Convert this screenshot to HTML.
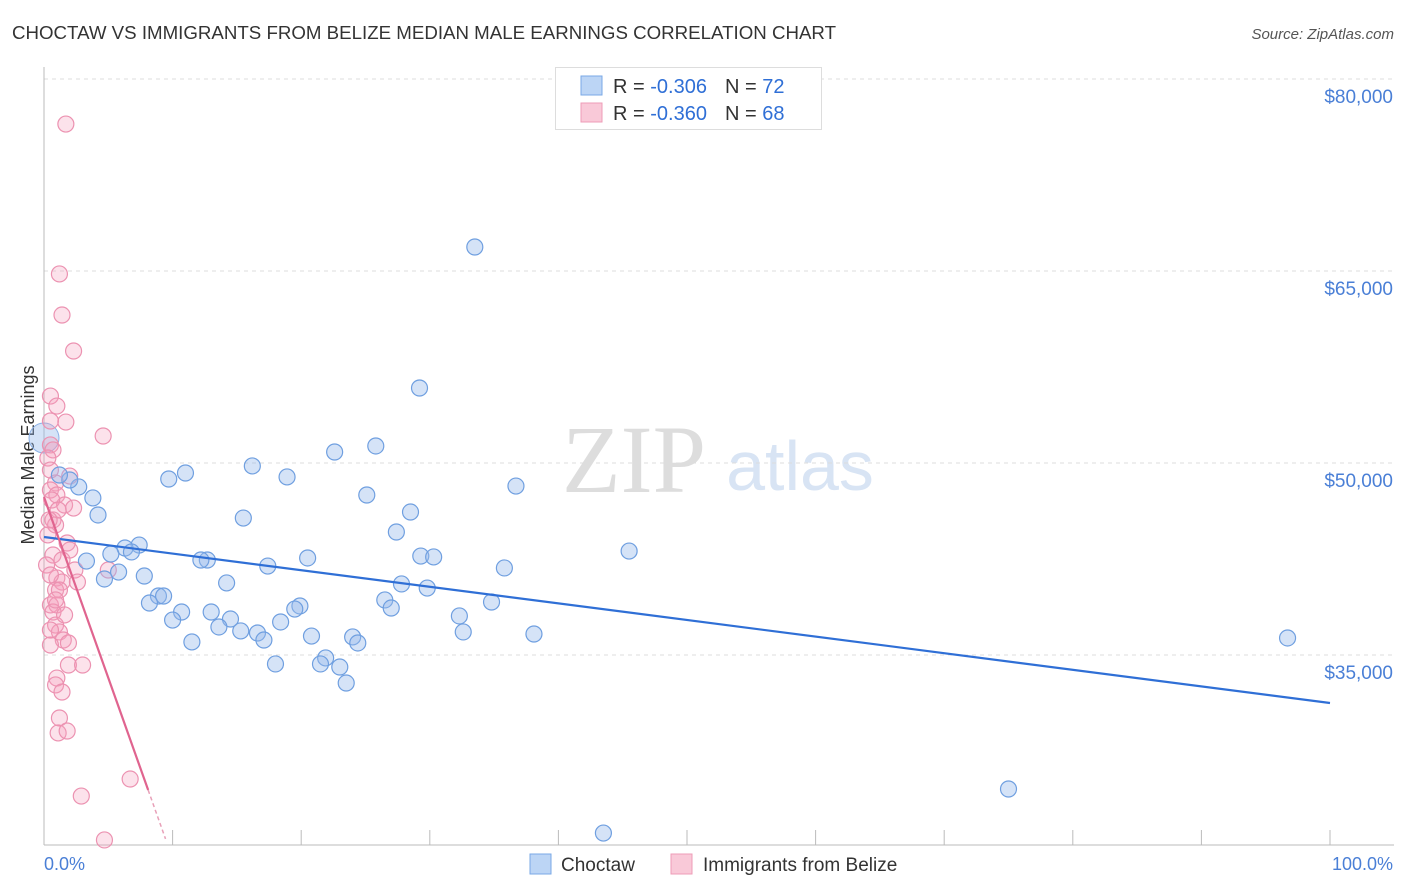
<!DOCTYPE html>
<html><head><meta charset="utf-8"><style>
body{margin:0;width:1406px;height:892px;background:#fff;overflow:hidden;font-family:"Liberation Sans",sans-serif}
svg{position:absolute;left:0;top:0}
</style></head><body>
<svg id="c" width="1406" height="892">
<text x="12" y="39" font-size="18" fill="#333" textLength="824" lengthAdjust="spacingAndGlyphs">CHOCTAW VS IMMIGRANTS FROM BELIZE MEDIAN MALE EARNINGS CORRELATION CHART</text>
<text x="1394" y="39" font-size="15" fill="#555" font-style="italic" text-anchor="end">Source: ZipAtlas.com</text>
<text transform="translate(34,455) rotate(-90)" font-size="18" fill="#333" text-anchor="middle">Median Male Earnings</text>
<text x="634" y="492" font-size="96" fill="#ddd" font-family="Liberation Serif,serif" text-anchor="middle">ZIP</text>
<text x="800" y="490" font-size="70" fill="#d8e4f4" text-anchor="middle">atlas</text>
<g id="grid"></g><g id="pts"></g><g id="lines"></g>
<g>
<rect x="555.5" y="67.5" width="266" height="62" fill="#fff" stroke="#ddd"/>
<rect x="581" y="76" width="21" height="19" fill="#bcd5f5" stroke="#7aa8e6"/>
<rect x="581" y="103" width="21" height="19" fill="#f9c9d8" stroke="#ee9cb7"/>
<text x="613" y="93" font-size="20" fill="#333">R = <tspan fill="#2f6fd6">-0.306</tspan><tspan dx="18">N = </tspan><tspan fill="#2f6fd6">72</tspan></text>
<text x="613" y="120" font-size="20" fill="#333">R = <tspan fill="#2f6fd6">-0.360</tspan><tspan dx="18">N = </tspan><tspan fill="#2f6fd6">68</tspan></text>
</g>
<text x="44" y="870" font-size="18" fill="#4a7fd6">0.0%</text>
<text x="1393" y="870" font-size="18" fill="#4a7fd6" text-anchor="end">100.0%</text>
<g>
<rect x="530" y="854" width="21" height="20" fill="#bcd5f5" stroke="#7aa8e6"/>
<text x="561" y="871" font-size="19" fill="#333">Choctaw</text>
<rect x="671" y="854" width="21" height="20" fill="#f9c9d8" stroke="#ee9cb7"/>
<text x="703" y="871" font-size="19" fill="#333">Immigrants from Belize</text>
</g>
</svg>
<script>
const yTicks=[35000,50000,65000,80000];
const yTickLabels=["$35,000","$50,000","$65,000","$80,000"];
const xTicks=[0,10,20,30,40,50,60,70,80,90,100];
const blueX=[33.5,29.2,25.8,22.6,16.2,11.0,9.7,18.9,36.7,25.1,28.5,15.5,4.2,3.8,2.7,2.0,27.4,45.5,7.4,6.3,5.2,6.8,3.3,12.7,12.2,20.5,17.4,29.3,30.3,35.8,5.8,4.7,7.8,14.2,27.8,29.8,26.5,27.0,34.8,8.9,9.3,8.2,19.9,19.5,10.7,13.0,14.5,10.0,13.6,15.3,16.6,17.1,20.8,18.4,32.3,32.6,38.1,24.0,24.4,11.5,21.9,21.5,18.0,23.0,23.5,96.7,75.0,43.5,1.2];
const blueY=[66875,55860,51330,50860,49770,49220,48750,48910,48200,47500,46170,45700,45940,47270,48130,48670,44610,43120,43590,43360,42890,43050,42340,42420,42420,42580,41950,42730,42660,41800,41480,40940,41170,40630,40550,40230,39300,38670,39140,39610,39610,39060,38830,38590,38360,38360,37810,37730,37190,36880,36720,36170,36480,37580,38050,36800,36640,36410,35940,36020,34770,34300,34300,34060,32810,36330,24530,21090,49060];
const pinkX=[1.7,1.2,1.4,2.3,0.5,1.0,0.5,1.7,4.6,0.5,0.7,0.3,2.0,0.9,0.5,1.0,1.6,2.3,0.7,0.9,0.3,1.8,2.0,0.7,0.2,2.4,1.0,1.4,2.6,5.0,0.9,1.2,0.5,1.0,0.7,0.9,1.2,1.5,1.9,0.5,1.9,3.0,1.0,0.9,1.4,1.2,1.1,1.8,6.7,2.9,4.7,0.5,0.6,1.1,1.4,0.5,0.9,1.6,0.5,0.4];
const pinkY=[76480,64770,61560,58750,55230,54450,53280,53200,52110,51410,51020,50390,48980,48440,47890,47500,46720,46480,45550,45160,44380,43750,43200,42810,42030,41640,41020,40700,40700,41640,40080,40080,38910,38910,38360,37340,36800,36170,35940,35780,34220,34220,33200,32660,32110,30080,28910,29060,25310,23980,20550,49450,47110,46330,42420,41250,39300,38130,36950,45550];
const blueTrend=[44220,31250];
const pinkTrend=[47340,-2826];
const X=p=>44+p*12.86, Y=v=>463-(v-50000)*0.0128;
const NS="http://www.w3.org/2000/svg";
function mk(t,a,parent){const e=document.createElementNS(NS,t);for(const k in a)e.setAttribute(k,a[k]);document.getElementById(parent).appendChild(e);return e;}
yTicks.forEach((v,i)=>{
 const l=mk('line',{x1:44,x2:1394,y1:Y(v),y2:Y(v),stroke:'#ddd','stroke-dasharray':'4,4'},'grid');
 
 
 const t=mk('text',{x:1393,y:Y(v)+24,'font-size':19,fill:'#4a7fd6','text-anchor':'end'},'grid');t.textContent=yTickLabels[i];
 
 
});
mk('line',{x1:44,x2:44,y1:67,y2:845,stroke:'#bbb'},'grid');
mk('line',{x1:44,x2:1394,y1:845,y2:845,stroke:'#bbb'},'grid');
xTicks.forEach(p=>{const l=mk('line',{x1:X(p),x2:X(p),y1:830,y2:845,stroke:'#bbb'},'grid');
 
 });
const big=mk('circle',{cx:44,cy:Y(51950),r:15,fill:'rgba(150,185,235,0.4)',stroke:'#8ab0e6'},'pts');


pinkX.forEach((x,i)=>{const c=mk('circle',{cx:X(x),cy:Y(pinkY[i]),r:8,fill:'rgba(245,160,190,0.3)',stroke:'#ec92b1','stroke-width':1.2},'pts');
 
 });
blueX.forEach((x,i)=>{const c=mk('circle',{cx:X(x),cy:Y(blueY[i]),r:8,fill:'rgba(150,185,235,0.4)',stroke:'#6f9fe0','stroke-width':1.2},'pts');
 
 });
const bl=mk('line',{x1:X(0),y1:Y(blueTrend[0]),x2:X(100),y2:Y(blueTrend[1]),stroke:'#2f6fd6','stroke-width':2.2},'lines');


const pv=p=>pinkTrend[0]+pinkTrend[1]*p;
const pl=mk('line',{x1:X(0),y1:Y(pv(0)),x2:X(8.1),y2:Y(pv(8.1)),stroke:'#e0648f','stroke-width':2.2},'lines');


const pd=mk('line',{x1:X(8.1),y1:Y(pv(8.1)),x2:X(9.45),y2:Y(pv(9.45)),stroke:'#e8a0b8','stroke-width':1.5,'stroke-dasharray':'4,3'},'lines');


</script>
</body></html>
